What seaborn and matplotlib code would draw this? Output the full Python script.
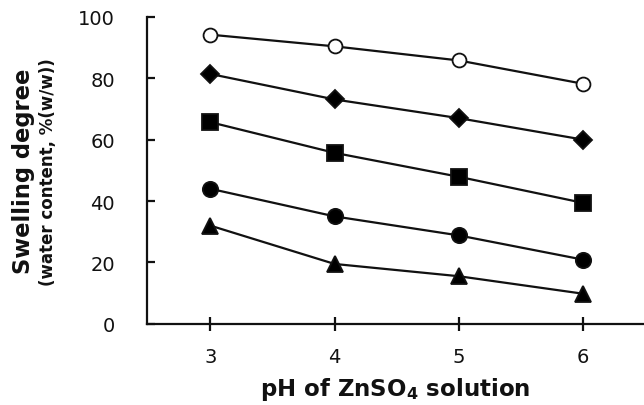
import pandas as pd
import seaborn as sns
import matplotlib.pyplot as plt

ph = [3, 4, 5, 6]
open_circle = [94.2, 90.4, 85.8, 78.2]
diamond = [81.4, 73.1, 67.0, 60.0]
square = [65.7, 55.7, 47.9, 39.4]
circle = [44.0, 35.0, 28.8, 20.9]
triangle = [32.0, 19.5, 15.5, 9.8]

series = [
    (open_circle, 'o', 'white', 10),
    (diamond, 'D', 'black', 9),
    (square, 's', 'black', 11),
    (circle, 'o', 'black', 11),
    (triangle, '^', 'black', 11.5),
]

sns.set_style('ticks')
plt.rcParams['font.family'] = ['DejaVu Sans']

fig = plt.figure(figsize=(6.44, 4.06), dpi=100)
ax = fig.add_axes([0.228, 0.2, 0.772, 0.756])

for vals, mk, face, ms in series:
    df = pd.DataFrame({'pH': ph, 'swelling': vals})
    sns.lineplot(data=df, x='pH', y='swelling', ax=ax, color='#111111',
                 linewidth=1.6, marker=mk, markersize=ms,
                 markerfacecolor=face, markeredgecolor='#111111',
                 markeredgewidth=1.3)

ax.set_xlim(2.49, 6.49)
ax.set_ylim(0, 100)
ax.set_xticks(ph)
ax.set_yticks([0, 20, 40, 60, 80, 100])
ax.spines['top'].set_visible(False)
ax.spines['right'].set_visible(False)
for s in ['left', 'bottom']:
    ax.spines[s].set_linewidth(1.6)
    ax.spines[s].set_color('#111111')
ax.tick_params(axis='y', direction='in', length=6, width=1.6, pad=23,
               labelsize=14, colors='#111111')
ax.tick_params(axis='x', direction='inout', length=10, width=1.6, pad=12,
               labelsize=14, colors='#111111')

ax.set_xlabel('')
ax.set_ylabel('')
fig.text(0.613, 0.025, 'pH of ZnSO$_\\mathregular{4}$ solution', ha='center',
         va='baseline', fontsize=16.5, fontweight='bold', color='#111111')
fig.text(0.037, 0.578, 'Swelling degree', rotation=90, ha='center',
         va='center', fontsize=16.3, fontweight='bold', color='#111111')
fig.text(0.075, 0.576, '(water content, %(w/w))', rotation=90, ha='center',
         va='center', fontsize=12, fontweight='bold', color='#111111')

fig.savefig('out.png', dpi=100)
